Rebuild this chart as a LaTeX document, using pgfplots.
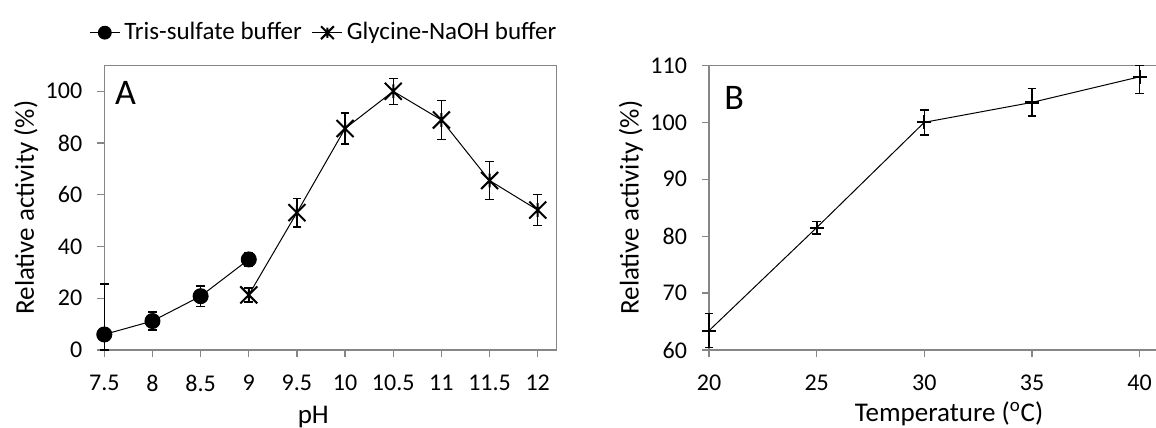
\documentclass[border=0pt]{standalone}
\usepackage{fontspec}
\setmainfont{Carlito}
\usepackage{pgfplots}
\pgfplotsset{compat=1.18}
\usepackage{pgfplotstable}

\definecolor{axgray}{RGB}{134,134,134}

\pgfdeclareplotmark{xstar}{%
  \pgfpathmoveto{\pgfqpoint{-\pgfplotmarksize}{-\pgfplotmarksize}}%
  \pgfpathlineto{\pgfqpoint{\pgfplotmarksize}{\pgfplotmarksize}}%
  \pgfpathmoveto{\pgfqpoint{-\pgfplotmarksize}{\pgfplotmarksize}}%
  \pgfpathlineto{\pgfqpoint{\pgfplotmarksize}{-\pgfplotmarksize}}%
  \pgfpathmoveto{\pgfqpoint{0pt}{-0.8\pgfplotmarksize}}%
  \pgfpathlineto{\pgfqpoint{0pt}{0.8\pgfplotmarksize}}%
  \pgfusepathqstroke}

\pgfplotstableread{
x y ep em
7.5 6.0 19.5 6.0
8 11.2 3.5 3.5
8.5 20.8 4.0 4.0
9 35.0 2.6 2.6
}\tris

\pgfplotstableread{
x y ep em
9 21.3 2.7 2.7
9.5 53.1 5.5 5.5
10 85.6 6.0 6.0
10.5 100.0 5.0 5.0
11 88.9 7.5 7.5
11.5 65.5 7.3 7.3
12 54.1 6.0 6.0
}\gly

\pgfplotstableread{
x y ep em
20 63.4 3.0 3.0
25 81.5 1.1 1.1
30 100.0 2.2 2.2
35 103.5 2.4 2.4
40 108.0 2.0 2.9
}\temp

\pgfplotsset{
  myax/.style={
    scale only axis,
    anchor=south west,
    height=142.3pt,
    axis line style={axgray, line width=0.6pt},
    tick style={axgray, line width=0.6pt},
    major tick length=3.5pt,
    tick align=outside,
    xtick pos=bottom, ytick pos=left,
    clip=false,
    /pgf/number format/assume math mode=true,
    ticklabel style={font=\fontsize{12}{14}\selectfont, black},
    label style={font=\fontsize{13.5}{16}\selectfont},
    xticklabel style={yshift=-5.5pt},
    yticklabel style={xshift=-4pt},
    error bars/error mark=-,
  },
  ebar/.style={error bars/.cd, y dir=both, y explicit,
    error bar style={line width=0.7pt, black},
    error mark options={rotate=90, mark size=2.2pt, line width=0.7pt, black}},
}

\begin{document}
\begin{tikzpicture}
\path[use as bounding box] (0,0) rectangle (578pt,214pt);

\begin{axis}[myax,
  at={(52.15pt,39pt)}, width=226.2pt,
  xmin=7.5, xmax=12.197, ymin=0, ymax=110,
  xtick={7.5,8,8.5,9,9.5,10,10.5,11,11.5,12},
  xticklabels={7.5,8,8.5,9,9.5,10,10.5,11,11.5,12},
  ytick={0,20,40,60,80,100},
  xlabel={pH},
  ylabel={Relative activity (\%)},
  xlabel style={at={(axis description cs:0.462,0)}, anchor=center, yshift=-33.5pt},
  ylabel style={at={(axis description cs:0,0.5)}, anchor=center, yshift=39pt},
  legend columns=2,
  legend style={draw=none, fill=none, font=\fontsize{12.5}{15}\selectfont,
    at={(rel axis cs:-0.034,1.115)}, anchor=west, inner sep=0pt,
    /tikz/every even column/.append style={column sep=3pt}},
  legend cell align=left,
  legend image code/.code={\draw[mark repeat=2,mark phase=2,mark size=3.2pt] plot coordinates {(0pt,0pt)(7.5pt,0pt)(15pt,0pt)};},
]
\addplot[black, line width=0.5pt, mark=*, mark size=3.75pt, ebar]
  table[x=x, y=y, y error plus=ep, y error minus=em] {\tris};
\addlegendentry{Tris-sulfate buffer}
\addplot[black, line width=0.5pt, mark=xstar, mark size=4.25pt, mark options={line width=1pt}, ebar]
  table[x=x, y=y, y error plus=ep, y error minus=em] {\gly};
\addlegendentry{Glycine-NaOH buffer}
\node[font=\fontsize{18}{20}\selectfont, anchor=center] at (axis description cs:0.047,0.902) {A};
\end{axis}

\begin{axis}[myax,
  at={(354.5pt,39pt)}, width=224.8pt,
  xmin=20, xmax=40.88, ymin=60, ymax=110,
  xtick={20,25,30,35,40},
  ytick={60,70,80,90,100,110},
  xlabel={Temperature (\textsuperscript{o}C)},
  ylabel={Relative activity (\%)},
  xlabel style={at={(axis description cs:0.534,0)}, anchor=center, yshift=-32pt},
  ylabel style={at={(axis description cs:0,0.5)}, anchor=center, yshift=39pt},
]
\addplot[black, line width=0.5pt, mark=+, mark size=3.5pt, mark options={line width=1.1pt}, ebar]
  table[x=x, y=y, y error plus=ep, y error minus=em] {\temp};
\node[font=\fontsize{18}{20}\selectfont, anchor=center] at (axis description cs:0.056,0.887) {B};
\end{axis}
\end{tikzpicture}
\end{document}
